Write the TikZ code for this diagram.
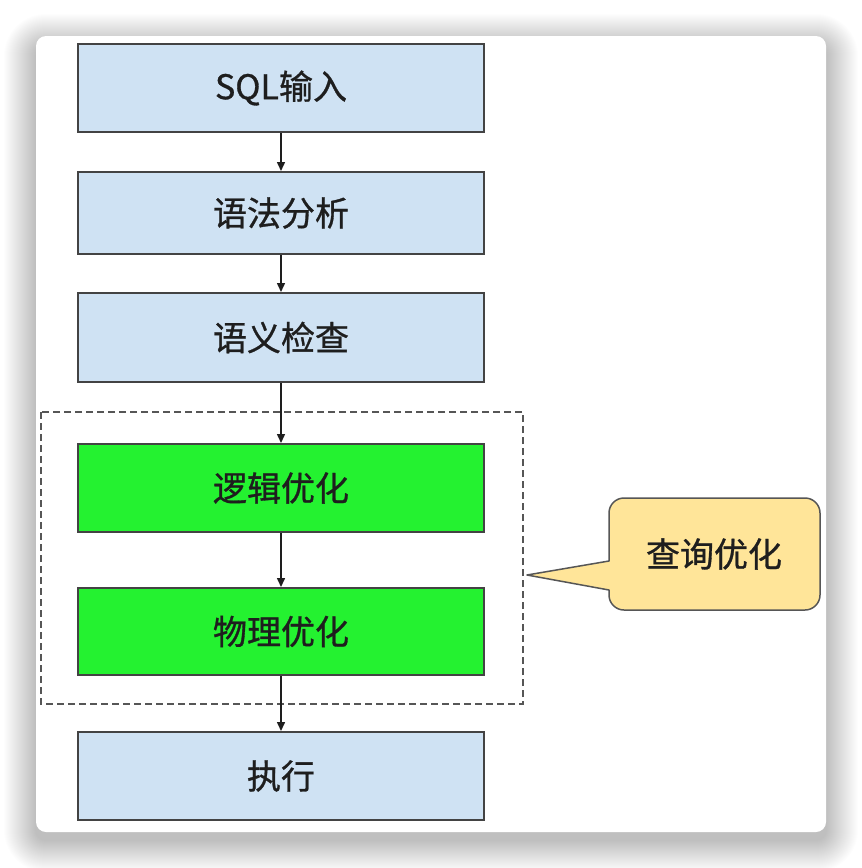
\documentclass[tikz,border=0pt]{standalone}
\usepackage{fontspec}
\setmainfont{Noto Sans CJK SC}
\newfontfamily\labelfont{Noto Sans CJK SC}[FakeBold=0.9]
\usetikzlibrary{arrows.meta}
\definecolor{boxblue}{RGB}{207,226,243}
\definecolor{boxgreen}{RGB}{36,242,48}
\definecolor{calloutyellow}{RGB}{255,229,153}
\definecolor{edgegray}{RGB}{67,67,67}
\definecolor{textdark}{RGB}{30,30,30}
\tikzset{
  labeltext/.style={font=\labelfont\fontsize{34}{40}\selectfont, text=textdark},
  stagebox/.style={labeltext, draw=edgegray, line width=2pt, minimum width=406pt, inner sep=0pt},
  bluebox/.style={stagebox, fill=boxblue},
  greenbox/.style={stagebox, fill=boxgreen},
  flow/.style={draw=textdark, line width=1.5pt, -{Triangle[length=9pt,width=8pt]}},
  groupframe/.style={draw=edgegray!90, line width=1.5pt, dash pattern=on 7pt off 4pt},
  calloutshape/.style={fill=calloutyellow, draw=edgegray!90, line width=1.5pt, line join=round},
}
\begin{document}
\begin{tikzpicture}[x=1pt,y=-1pt]
\useasboundingbox (0,0) rectangle (862,868);
\fill[white] (0,0) rectangle (862,868);
% card shadow
\foreach \i [evaluate=\i as \r using 10+\i] in {1,...,32} {
  \fill[black, opacity=0.006, rounded corners=\r pt] (36-\i, 46-\i) rectangle (826+\i, 840+\i);
}
\fill[white, rounded corners=10pt] (36,36) rectangle (826,832);

% group frame
\draw[groupframe] (41,412) rectangle (523,704);

% stages
\node[bluebox, minimum height=88pt] (sql) at (281,88) {SQL输入};
\node[bluebox, minimum height=82pt] (syntax) at (281,213) {语法分析};
\node[bluebox, minimum height=89pt] (semantic) at (281,337.5) {语义检查};
\node[greenbox, minimum height=88pt] (logic) at (281,488) {逻辑优化};
\node[greenbox, minimum height=87pt] (phys) at (281,631.5) {物理优化};
\node[bluebox, minimum height=88pt] (exec) at (281,776) {执行};

\draw[flow] (sql) -- (syntax);
\draw[flow] (syntax) -- (semantic);
\draw[flow] (semantic) -- (logic);
\draw[flow] (logic) -- (phys);
\draw[flow] (phys) -- (exec);

% callout
\path[calloutshape] (527,575) -- (609,561) -- (609,513)
  .. controls (609,504.75) and (615.75,498) .. (624,498) -- (805,498)
  .. controls (813.25,498) and (820,504.75) .. (820,513) -- (820,595)
  .. controls (820,603.25) and (813.25,610) .. (805,610) -- (624,610)
  .. controls (615.75,610) and (609,603.25) .. (609,595) -- (609,590) -- cycle;
\node[labeltext] (calloutlabel) at (714,554) {查询优化};
\end{tikzpicture}
\end{document}
